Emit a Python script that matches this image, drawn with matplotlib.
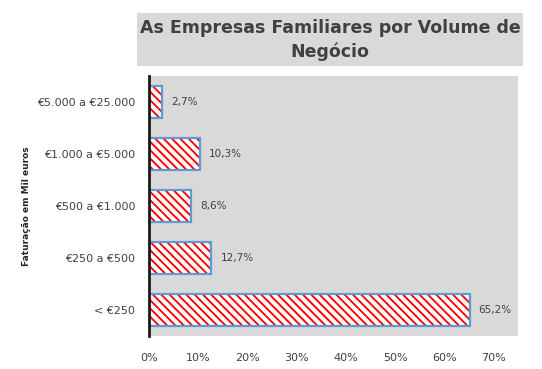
import matplotlib.pyplot as plt
from matplotlib.patches import Rectangle
from matplotlib.ticker import FuncFormatter

# ------------------------------------------------------------
# DATA (bottom to top)
# ------------------------------------------------------------
categorias = ["< €250", "€250 a €500", "€500 a €1.000", "€1.000 a €5.000", "€5.000 a €25.000"]
percentagens = [65.2, 12.7, 8.6, 10.3, 2.7]
x_ticks = [0, 10, 20, 30, 40, 50, 60, 70]

TITULO = "As Empresas Familiares por Volume de\nNegócio"
Y_LABEL = "Faturação em Mil euros"

TXT = "#404040"
GRAY = "#d9d9d9"
RED = "#ff0000"
BLUE = "#5b9bd5"

plt.rcParams["hatch.linewidth"] = 1.35
plt.rcParams["font.family"] = ["DejaVu Sans"]

fig = plt.figure(figsize=(5.42, 3.69), dpi=100)
W, H = 542, 369

# title box
fig.patches.append(Rectangle((137 / W, 1 - 66 / H), 386 / W, 53 / H,
                             transform=fig.transFigure, facecolor=GRAY,
                             edgecolor="none", zorder=0))
fig.text(330 / W, 1 - 40 / H, TITULO, ha="center", va="center",
         fontsize=12.5, fontweight="bold", color=TXT, linespacing=1.4)

ax = fig.add_axes([149 / W, 1 - 336 / H, 369 / W, 260 / H])
ax.set_facecolor(GRAY)

ypos = list(range(len(categorias)))
# hatch layer (hatch takes the edge colour), then blue outline on top
ax.barh(ypos, percentagens, height=0.62, color="white",
        edgecolor=RED, linewidth=0, hatch="\\\\\\\\")
bars = ax.barh(ypos, percentagens, height=0.62, fill=False,
               edgecolor=BLUE, linewidth=1.6)

for b, v in zip(bars, percentagens):
    ax.text(b.get_width() + 1.8, b.get_y() + b.get_height() / 2,
            f"{v:.1f}%".replace(".", ","), va="center", ha="left",
            fontsize=7.5, color=TXT)

ax.set_xlim(0, 75)
ax.set_ylim(-0.5, len(categorias) - 0.5)
ax.set_xticks(x_ticks)
ax.xaxis.set_major_formatter(FuncFormatter(lambda v, _: f"{v:.0f}%"))
ax.set_yticks(ypos)
ax.set_yticklabels(categorias)
ax.tick_params(axis="both", length=0, labelsize=8, colors=TXT)
ax.tick_params(axis="x", pad=12)
ax.tick_params(axis="y", pad=10)

for s in ["top", "right", "bottom"]:
    ax.spines[s].set_visible(False)
ax.spines["left"].set_linewidth(2)
ax.spines["left"].set_color("#1a1a1a")
ax.spines["left"].set_zorder(5)

fig.text(27 / W, 1 - 206 / H, Y_LABEL, rotation=90, ha="center", va="center",
         fontsize=6.5, fontweight="bold", color="#262626")

fig.savefig("out.png", dpi=100)
